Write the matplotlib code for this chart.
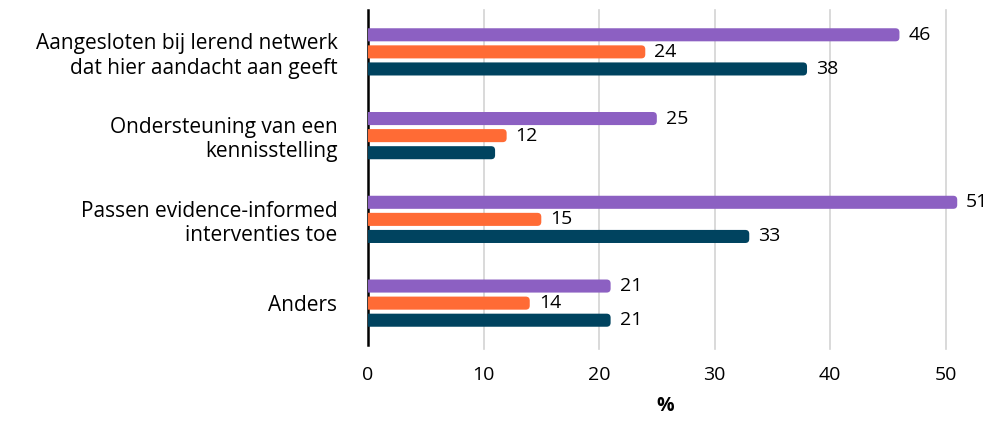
import matplotlib.pyplot as plt
from matplotlib.patches import FancyBboxPatch
import numpy as np

# Data
categories = [
    "Aangesloten bij lerend netwerk\ndat hier aandacht aan geeft",
    "Ondersteuning van een\nkennisstelling",
    "Passen evidence-informed\ninterventies toe",
    "Anders",
]
series_purple = [46, 25, 51, 21]
series_orange = [24, 12, 15, 14]
series_navy = [38, 11, 33, 21]
# label shown next to each bar (None = no label in the original)
labels_purple = ["46", "25", "51", "21"]
labels_orange = ["24", "12", "15", "14"]
labels_navy = ["38", None, "33", "21"]
xticks = [0, 10, 20, 30, 40, 50]

colors = ["#8c60c2", "#ff6b35", "#00435f"]

plt.rcParams['font.family'] = ['Open Sans', 'DejaVu Sans']
fs = 15

fig = plt.figure(figsize=(9.89, 4.21), dpi=100)
ax = fig.add_axes([368 / 989, 1 - 345 / 421, (963 - 368) / 989, 335 / 421])

xmax = 51.5
ax.set_xlim(0, xmax)
ax.set_ylim(3.5, -0.5)

y = np.arange(len(categories))
offset = 0.204
height = 0.156

# pixel scales for rounded corners
ax_w_px = 963 - 368
ax_h_px = 335
x_per_px = xmax / ax_w_px
y_per_px = 4.0 / ax_h_px
radius_px = 4

all_series = [
    (series_purple, labels_purple, -offset, colors[0]),
    (series_orange, labels_orange, 0, colors[1]),
    (series_navy, labels_navy, offset, colors[2]),
]

for vals, labs, off, col in all_series:
    for yi, v, lab in zip(y, vals, labs):
        start = -1.0
        box = FancyBboxPatch(
            (start, yi + off - height / 2), v - start, height,
            boxstyle=f"round,pad=0,rounding_size={radius_px * x_per_px}",
            mutation_aspect=y_per_px / x_per_px,
            facecolor=col, edgecolor="none", zorder=3, clip_on=True)
        ax.add_patch(box)
        if lab is not None:
            ax.text(v + 9 * x_per_px, yi + off, lab, va="center", ha="left",
                    fontsize=14, color="black", fontweight="medium", zorder=4)

ax.set_yticks(y)
ax.set_yticklabels(categories, fontsize=fs, linespacing=1.2)
ax.tick_params(axis="y", length=0, pad=22)
ax.set_xticks(xticks)
ax.set_xticklabels([str(t) for t in xticks], fontsize=14)
ax.tick_params(axis="x", length=0, pad=15)

for t in xticks[1:]:
    ax.axvline(t, color="#d3d3d3", linewidth=1.2, zorder=0, ymin=-0.012, clip_on=False)

for s in ["top", "right", "bottom"]:
    ax.spines[s].set_visible(False)
ax.spines["left"].set_linewidth(1.8)
ax.spines["left"].set_color("black")

ax.set_xlabel("%", fontsize=14, fontweight="bold", labelpad=9)

plt.savefig("out.png", dpi=100)
plt.close()
